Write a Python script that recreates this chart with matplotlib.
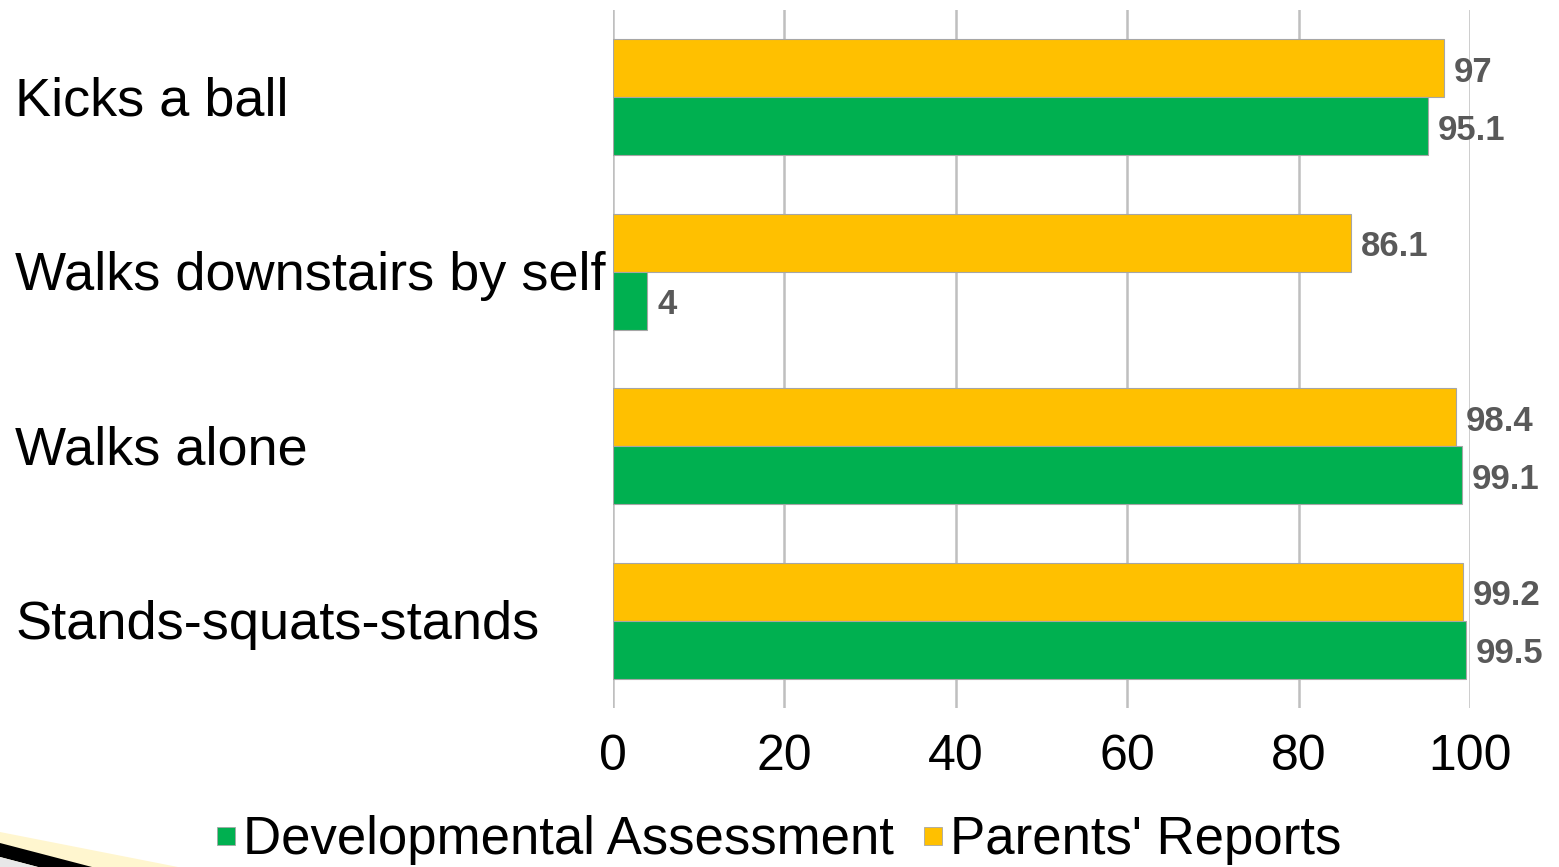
import matplotlib
matplotlib.use("Agg")
import matplotlib.pyplot as plt
import numpy as np
from matplotlib.patches import Polygon
from matplotlib.lines import Line2D
from matplotlib.transforms import blended_transform_factory

plt.rcParams["font.family"] = ["Liberation Sans", "DejaVu Sans"]

# Data
categories = ["Kicks a ball", "Walks downstairs by self", "Walks alone", "Stands-squats-stands"]
parents_reports = [97, 86.1, 98.4, 99.2]
dev_assessment = [95.1, 4, 99.1, 99.5]
xticks = [0, 20, 40, 60, 80, 100]

YELLOW = "#FFC000"
GREEN = "#00B050"
GRID = "#BFBFBF"
EDGE = "#A6A6A6"
LABEL = "#595959"

W, H = 1559, 867
fig = plt.figure(figsize=(W / 100, H / 100), dpi=100)
ax = fig.add_axes([613 / W, (H - 708) / H, 857 / W, 698 / H])

y = np.arange(len(categories))
h = 1 / 3
ax.barh(y - h / 2, parents_reports, height=h, color=YELLOW, edgecolor=EDGE, linewidth=0.8, zorder=3)
ax.barh(y + h / 2, dev_assessment, height=h, color=GREEN, edgecolor=EDGE, linewidth=0.8, zorder=3)

# value labels
for yi, v in zip(y, parents_reports):
    ax.annotate(f"{v:g}", (v, yi - h / 2), xytext=(7, -3), textcoords="offset points",
                va="center", ha="left", fontsize=25, fontweight="bold", color=LABEL, zorder=4)
for yi, v in zip(y, dev_assessment):
    ax.annotate(f"{v:g}", (v, yi + h / 2), xytext=(7, -3), textcoords="offset points",
                va="center", ha="left", fontsize=25, fontweight="bold", color=LABEL, zorder=4)

ax.set_xlim(0, 100)
ax.set_ylim(len(categories) - 0.5, -0.5)
ax.set_xticks(xticks)
ax.set_xticklabels([str(t) for t in xticks], fontsize=36)
ax.tick_params(axis="x", length=0, pad=19)
ax.set_yticks([])
ax.grid(axis="x", color=GRID, linewidth=1.8, zorder=0)
for s in ax.spines.values():
    s.set_visible(False)

# category labels, left aligned at the figure edge
trans = blended_transform_factory(fig.transFigure, ax.transData)
for yi, c in zip(y, categories):
    ax.annotate(c, (15 / W, yi), xycoords=trans, xytext=(0, -3), textcoords="offset points",
                ha="left", va="center", fontsize=39, color="black")

# legend
handles = [Line2D([], [], linestyle="none", marker="s", markersize=13.5, markerfacecolor=GREEN,
                  markeredgecolor=EDGE, markeredgewidth=0.6, label="Developmental Assessment"),
           Line2D([], [], linestyle="none", marker="s", markersize=13.5, markerfacecolor=YELLOW,
                  markeredgecolor=EDGE, markeredgewidth=0.6, label="Parents' Reports")]
fig.legend(handles=handles, loc="center", bbox_to_anchor=(779 / W, 1 - 840 / H), ncol=2,
           frameon=False, fontsize=38, handlelength=0.36, handletextpad=0.15,
           columnspacing=0.55, borderpad=0)

# slide decoration bottom-left
def px(pts):
    return [(x / W, 1 - yy / H) for x, yy in pts]

fig.patches.append(Polygon(px([(0, 832), (178, 867), (0, 867)]), closed=True,
                           facecolor="#FFF6CF", edgecolor="none", transform=fig.transFigure))
fig.patches.append(Polygon(px([(0, 843), (92, 867), (38, 867), (0, 857)]), closed=True,
                           facecolor="black", edgecolor="none", transform=fig.transFigure))
fig.patches.append(Polygon(px([(0, 857), (38, 867), (0, 867)]), closed=True,
                           facecolor="#E8E8E8", edgecolor="none", transform=fig.transFigure))

fig.savefig("out.png", dpi=100)
